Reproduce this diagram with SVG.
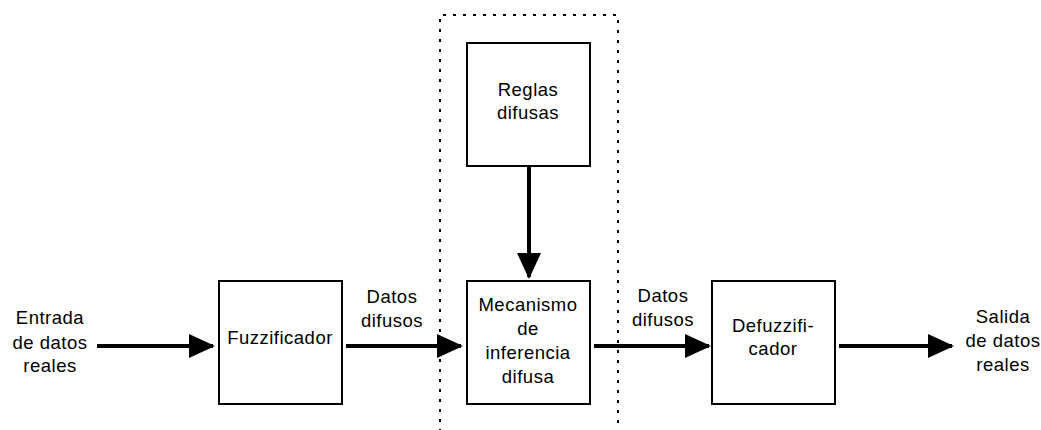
<svg xmlns="http://www.w3.org/2000/svg" width="1041" height="430" viewBox="0 0 1041 430">
  <style>
    .box { fill: #ffffff; stroke: #000000; stroke-width: 2; }
    .frame { fill: none; stroke: #000000; stroke-width: 2; stroke-dasharray: 3 7; }
    .edge { fill: none; stroke: #000000; stroke-width: 4; }
    text { font-family: "Liberation Sans", Arial, sans-serif; font-size: 18.5px; letter-spacing: 0.5px; fill: #000000; text-anchor: middle; }
  </style>
  <defs>
    <marker id="head" markerUnits="userSpaceOnUse" markerWidth="26" markerHeight="24" refX="24" refY="12" orient="auto">
      <path d="M0,0 L26,12 L0,24 Z" fill="#000000"/>
    </marker>
  </defs>
  <rect width="1041" height="430" fill="#ffffff"/>

  <!-- dotted frame around the inference block; it runs past the lower border -->
  <path class="frame" d="M440,432 V15 H618 V432"/>

  <!-- connectors -->
  <g id="connectors">
    <line class="edge" x1="97" y1="346" x2="213" y2="346" marker-end="url(#head)"/>
    <line class="edge" x1="346" y1="346" x2="461" y2="346" marker-end="url(#head)"/>
    <line class="edge" x1="594" y1="346" x2="709" y2="346" marker-end="url(#head)"/>
    <line class="edge" x1="839" y1="346" x2="952" y2="346" marker-end="url(#head)"/>
    <line class="edge" x1="529" y1="166" x2="529" y2="277" marker-end="url(#head)"/>
  </g>

  <!-- edge labels -->
  <g id="label-entrada">
    <text x="50" y="324">Entrada</text>
    <text x="50" y="349">de datos</text>
    <text x="50" y="372">reales</text>
  </g>
  <g id="label-datos-1">
    <text x="392" y="303">Datos</text>
    <text x="392" y="327">difusos</text>
  </g>
  <g id="label-datos-2">
    <text x="663" y="302">Datos</text>
    <text x="663" y="326">difusos</text>
  </g>
  <g id="label-salida">
    <text x="1003" y="323">Salida</text>
    <text x="1003" y="347">de datos</text>
    <text x="1003" y="371">reales</text>
  </g>

  <!-- nodes -->
  <g id="fuzzificador">
    <rect class="box" x="219" y="281" width="123" height="123"/>
    <text x="280" y="344">Fuzzificador</text>
  </g>
  <g id="reglas">
    <rect class="box" x="467" y="43" width="123" height="123"/>
    <text x="528" y="96">Reglas</text>
    <text x="528" y="119">difusas</text>
  </g>
  <g id="mecanismo">
    <rect class="box" x="467" y="281" width="123" height="123"/>
    <text x="528" y="311">Mecanismo</text>
    <text x="528" y="335">de</text>
    <text x="528" y="359">inferencia</text>
    <text x="528" y="383">difusa</text>
  </g>
  <g id="defuzzificador">
    <rect class="box" x="712" y="281" width="123" height="123"/>
    <text x="773" y="332">Defuzzifi-</text>
    <text x="773" y="355">cador</text>
  </g>
</svg>
